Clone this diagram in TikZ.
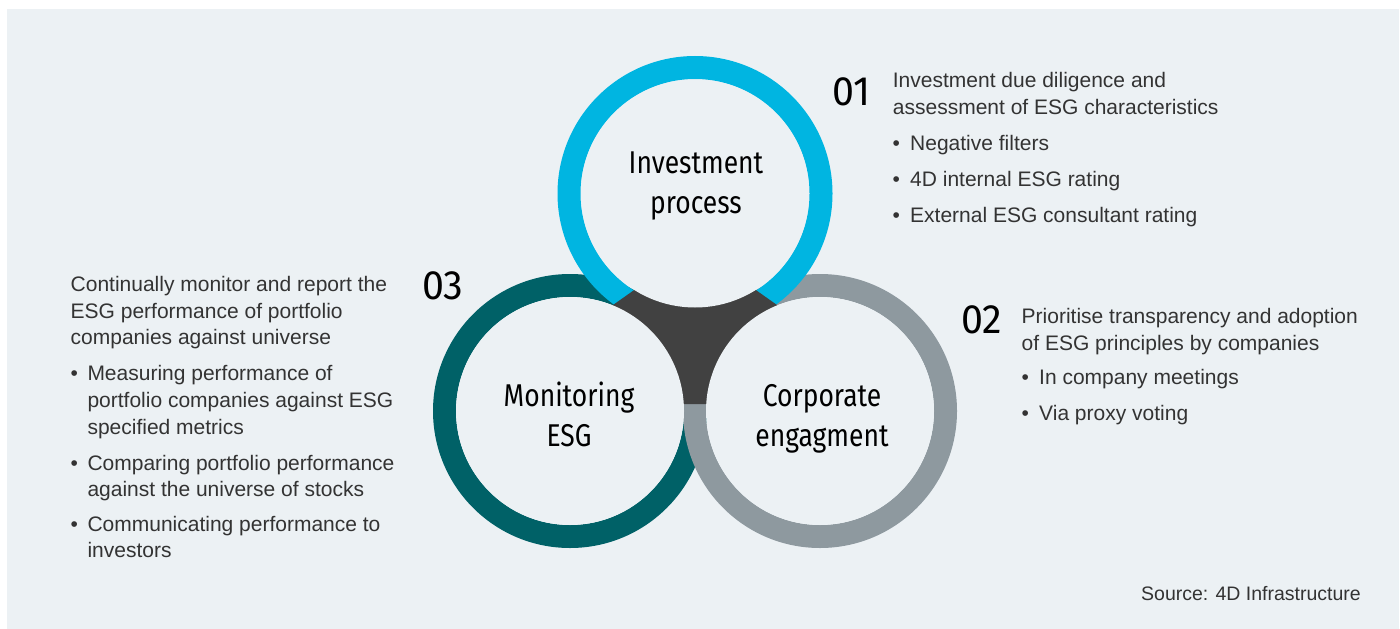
\documentclass[tikz,border=0pt]{standalone}
\usepackage{fontspec}
\setmainfont{Liberation Sans}
\newfontfamily\condfont[FakeStretch=0.84]{Fira Sans}
\newfontfamily\numfont[FakeStretch=0.96]{Fira Sans}
\definecolor{bgc}{HTML}{ECF1F4}
\definecolor{bluec}{HTML}{00B5E1}
\definecolor{tealc}{HTML}{006167}
\definecolor{greyc}{HTML}{8E999F}
\definecolor{darkc}{HTML}{414141}
\definecolor{bodyc}{HTML}{333333}
\begin{document}
\begin{tikzpicture}[x=1pt,y=-1pt,
  body/.style={anchor=base west, inner sep=0pt, font=\fontsize{21}{26}\selectfont, text=bodyc},
  lbl/.style={anchor=base, inner sep=0pt, font=\condfont\fontsize{31.5}{37}\selectfont, text=black},
  num/.style={anchor=base west, inner sep=0pt, font=\numfont\fontsize{41}{41}\selectfont, text=black},
  ring/.style={line width=23}]
\useasboundingbox (0,0) rectangle (1400,629);
\fill[white] (0,0) rectangle (1400,629);
\fill[bgc] (7,9) rectangle (1399,629);
% centers
\coordinate (T) at (695,193.5);
\coordinate (L) at (570,411);
\coordinate (R) at (820,411);
% rings
\draw[ring, tealc] (L) circle[radius=125.5];
\draw[ring, greyc] (R) circle[radius=125.5];
\draw[ring, bluec] (T) circle[radius=126];
% dark centre
\coordinate (d1) at (695,247);
\coordinate (d2) at (473,404);
\coordinate (d3) at (917,404);
\fill[darkc] (d1) -- (d2) -- (d3) -- cycle;
% inner disks
\fill[bgc] (T) circle[radius=114];
\fill[bgc] (L) circle[radius=114];
\fill[bgc] (R) circle[radius=114];
% circle labels
\node[lbl] (inv1) at (696,173.3) {Investment};
\node[lbl] (inv2) at (696,213.3) {process};
\node[lbl] (mon1) at (569,406.5) {Monitoring};
\node[lbl] (mon2) at (569,446.5) {ESG};
\node[lbl] (cor1) at (822,406.5) {Corporate};
\node[lbl] (cor2) at (822,446.5) {engagment};
% numbers
\node[num] (n1) at (832,105) {01};
\node[num] (n2) at (961,333) {02};
\node[num] (n3) at (422,299) {03};
% block 01
\node[body] (a1) at (892.7,87.3) {Investment due diligence and};
\node[body] (a2) at (892.7,114.3) {assessment of ESG characteristics};
\node[body] (ab1) at (892.5,150.7) {\textbullet};
\node[body] (at1) at (910,150.7) {Negative filters};
\node[body] (ab2) at (892.5,186.7) {\textbullet};
\node[body] (at2) at (910,186.7) {4D internal ESG rating};
\node[body] (ab3) at (892.5,222.3) {\textbullet};
\node[body] (at3) at (910,222.3) {External ESG consultant rating};
% block 02
\node[body] (b1) at (1021.5,323) {Prioritise transparency and adoption};
\node[body] (b2) at (1021.5,350) {of ESG principles by companies};
\node[body] (bb1) at (1021.5,384.3) {\textbullet};
\node[body] (bt1) at (1039,384.3) {In company meetings};
\node[body] (bb2) at (1021.5,420) {\textbullet};
\node[body] (bt2) at (1039,420) {Via proxy voting};
% block 03
\node[body] (c1) at (70.5,291.7) {Continually monitor and report the};
\node[body] (c2) at (70.5,318.3) {ESG performance of portfolio};
\node[body] (c3) at (70.5,344.3) {companies against universe};
\node[body] (cb1) at (70.5,380.7) {\textbullet};
\node[body] (ct1) at (87.3,380.7) {Measuring performance of};
\node[body] (ct2) at (87.3,407.3) {portfolio companies against ESG};
\node[body] (ct3) at (87.3,434) {specified metrics};
\node[body] (cb2) at (70.5,470) {\textbullet};
\node[body] (ct4) at (87.3,470) {Comparing portfolio performance};
\node[body] (ct5) at (87.3,496) {against the universe of stocks};
\node[body] (cb3) at (70.5,531.7) {\textbullet};
\node[body] (ct6) at (87.3,531.7) {Communicating performance to};
\node[body] (ct7) at (87.3,557.7) {investors};
% source
\node[body, anchor=base east, font=\fontsize{19.5}{24}\selectfont] (src) at (1361,600) {Source: 4D Infrastructure};
\end{tikzpicture}
\end{document}
